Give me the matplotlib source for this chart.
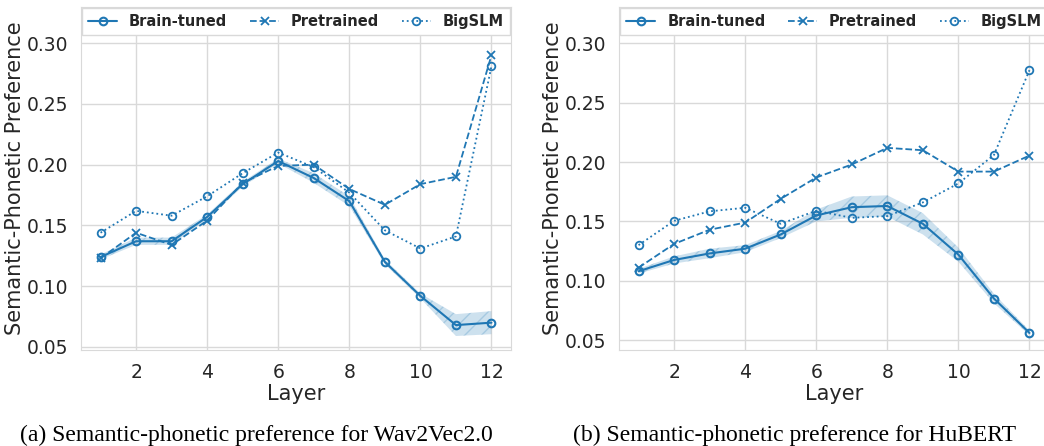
import numpy as np
import matplotlib
matplotlib.use("Agg")
import matplotlib.pyplot as plt
import seaborn as sns

sns.set_style("whitegrid")
plt.rcParams['font.family'] = ['DejaVu Sans']

layers = list(range(1, 13))

# Wav2Vec2.0
w2v_brain = [0.124, 0.137, 0.137, 0.157, 0.184, 0.203, 0.189, 0.170, 0.120, 0.092, 0.068, 0.070]
w2v_brain_err = [0.002, 0.003, 0.003, 0.002, 0.002, 0.002, 0.004, 0.004, 0.002, 0.002, 0.009, 0.0095]
w2v_pre = [0.123, 0.144, 0.134, 0.154, 0.185, 0.199, 0.200, 0.180, 0.167, 0.184, 0.190, 0.290]
w2v_big = [0.144, 0.162, 0.158, 0.174, 0.193, 0.210, 0.198, 0.177, 0.146, 0.131, 0.141, 0.281]

# HuBERT
hub_brain = [0.108, 0.1175, 0.123, 0.127, 0.139, 0.155, 0.162, 0.163, 0.148, 0.122, 0.085, 0.056]
hub_brain_err = [0.002, 0.003, 0.004, 0.003, 0.003, 0.005, 0.009, 0.009, 0.009, 0.006, 0.004, 0.002]
hub_pre = [0.111, 0.131, 0.143, 0.149, 0.169, 0.187, 0.198, 0.212, 0.210, 0.192, 0.192, 0.2055]
hub_big = [0.130, 0.1505, 0.1585, 0.1615, 0.148, 0.159, 0.153, 0.1545, 0.166, 0.182, 0.206, 0.2775]

captions = ["(a) Semantic-phonetic preference for Wav2Vec2.0",
            "(b) Semantic-phonetic preference for HuBERT"]
legend_labels = ["Brain-tuned", "Pretrained", "BigSLM"]
xticks = [2, 4, 6, 8, 10, 12]
yticks = [0.05, 0.10, 0.15, 0.20, 0.25, 0.30]

color = "#1f77b4"
W, H = 1044, 446
fig = plt.figure(figsize=(W / 100, H / 100), dpi=100)

panels = [
    (w2v_brain, w2v_brain_err, w2v_pre, w2v_big, (0.0475, 0.330), 81, captions[0], 20),
    (hub_brain, hub_brain_err, hub_pre, hub_big, (0.0416, 0.331), 619, captions[1], 573),
]

for brain, err, pre, big, ylim, left_px, cap, cap_x in panels:
    ax = fig.add_axes([left_px / W, 1 - 350 / H, 430 / W, 343.3 / H])
    b = np.array(brain)
    e = np.array(err)
    ax.fill_between(layers, b - e, b + e, facecolor=color, alpha=0.22,
                    hatch='//', edgecolor=color, linewidth=0)
    ax.plot(layers, brain, '-o', color=color, lw=1.5, ms=5.5, mfc='none', mew=1.5,
            label=legend_labels[0])
    ax.plot(layers, pre, '--x', color=color, lw=1.3, ms=5.5, mew=1.3,
            label=legend_labels[1])
    ax.plot(layers, big, ':o', color=color, lw=1.3, ms=5.5, mfc='none', mew=1.3,
            label=legend_labels[2])
    ax.set_xlim(0.45, 12.55)
    ax.set_ylim(*ylim)
    ax.set_xticks(xticks)
    ax.set_yticks(yticks)
    ax.set_yticklabels([f"{v:.2f}" for v in yticks])
    ax.tick_params(axis='both', labelsize=13.5, colors='#262626', pad=6)
    ax.set_xlabel("Layer", fontsize=15, color='#262626', labelpad=1)
    ax.set_ylabel("Semantic-Phonetic Preference", fontsize=15, color='#262626', labelpad=1)
    ax.grid(color='#d9d9d9', lw=1.0)
    for s in ax.spines.values():
        s.set_color('#d9d9d9')
    leg = ax.legend(loc='upper left', bbox_to_anchor=(0, 1, 1, 0), mode='expand',
                    borderaxespad=0.1, ncol=3, prop={'weight': 'bold', 'size': 10.5},
                    frameon=True, fancybox=False, framealpha=1.0)
    leg.get_frame().set_edgecolor('#d9d9d9')
    for t in leg.get_texts():
        t.set_color('#262626')
    fig.text(cap_x / W, 1 - 441 / H, cap, fontsize=17, family='Liberation Serif',
             ha='left', va='baseline', color='black')

fig.savefig("out.png", dpi=100)
